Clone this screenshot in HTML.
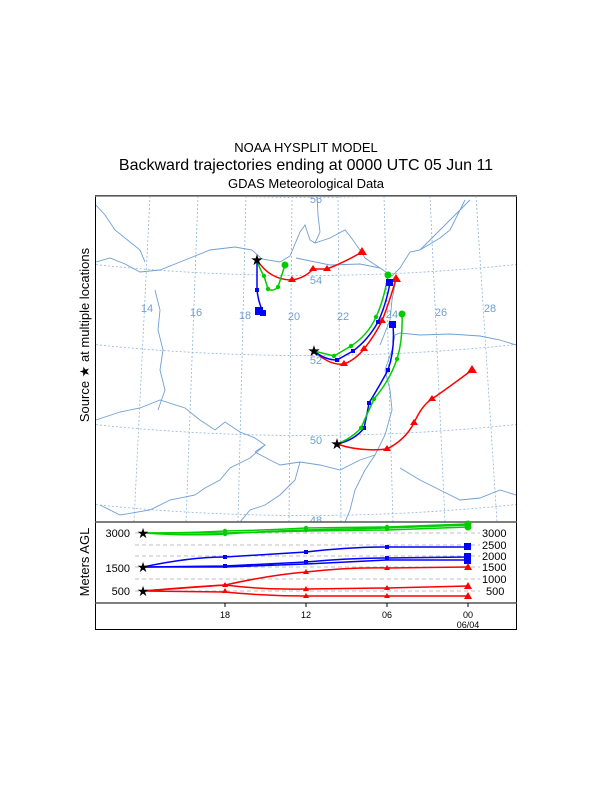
<!DOCTYPE html>
<html><head><style>body{margin:0;background:#fff}svg{display:block}</style></head><body>
<svg width="612" height="792" xmlns="http://www.w3.org/2000/svg" font-family="Liberation Sans, sans-serif">
<text x="306" y="152" font-size="13" text-anchor="middle">NOAA HYSPLIT MODEL</text>
<text x="306" y="170" font-size="16" text-anchor="middle">Backward trajectories ending at 0000 UTC 05 Jun 11</text>
<text x="306" y="188" font-size="13" text-anchor="middle">GDAS Meteorological Data</text>
<text transform="translate(89,335) rotate(-90)" font-size="13" text-anchor="middle">Source ★ at multiple locations</text>
<text transform="translate(89,562) rotate(-90)" font-size="13" text-anchor="middle">Meters AGL</text>
<defs><clipPath id="m"><rect x="96" y="197" width="420" height="325"/></clipPath></defs>
<g clip-path="url(#m)">
<g stroke="#8fb4dc" stroke-width="0.8" stroke-dasharray="2,2" fill="none">
<line x1="85" y1="196" x2="62" y2="522"/><line x1="150" y1="196" x2="134" y2="522"/>
<line x1="198" y1="196" x2="186" y2="522"/><line x1="246" y1="196" x2="238" y2="522"/>
<line x1="292" y1="196" x2="289" y2="522"/><line x1="338" y1="196" x2="341" y2="522"/>
<line x1="384" y1="196" x2="393" y2="522"/><line x1="430" y1="196" x2="445" y2="522"/>
<line x1="476" y1="196" x2="497" y2="522"/>
<path d="M80 185 Q306 210 530 185"/><path d="M80 263 Q306 288 530 263"/>
<path d="M80 343 Q306 368 530 343"/><path d="M80 423 Q306 448 530 423"/><path d="M80 503 Q306 528 530 503"/>
</g>
<g stroke="#6f9fd4" stroke-width="0.9" fill="none">
<path d="M96 262 L110 258 L125 264 L140 272 L160 270 L180 262 L210 250 L235 247 L252 250 L262 259 L280 262 L290 256 L295 244 L300 232 L305 225 L310 240 L315 243 L330 238 L345 230 L350 236 L360 250 L365 258 L380 268 L392 276 L400 268 L410 252 L420 250 L430 244 L440 238 L450 230 L455 220 L460 210 L465 200"/>
<path d="M296 258 L330 265 L360 264 L380 268"/>
<path d="M317 196 L318 215 L320 232 L315 243"/>
<path d="M96 205 L105 215 L115 230 L130 242 L140 250 L145 262"/>
<path d="M155 290 L160 310 L158 330 L163 350 L160 370 L165 390 L158 410"/>
<path d="M96 420 L120 412 L140 408 L160 400 L185 408 L200 420 L215 430 L225 422 L240 432 L255 438 L265 445 L255 452"/>
<path d="M255 452 L270 460 L280 465 L300 462 L320 465 L340 470 L360 460 L375 455"/>
<path d="M265 445 L250 458 L230 468 L220 480 L205 488 L195 495 L170 500 L150 510 L120 515 L100 505"/>
<path d="M300 462 L295 480 L280 495 L265 505 L250 510 L240 522"/>
<path d="M375 455 L385 435 L392 410 L390 390 L385 370 L392 350 L395 335 L400 333 L420 335 L450 334 L480 336 L500 340 L516 345"/>
<path d="M375 455 L365 470 L355 490 L350 510 L345 522"/>
<path d="M400 468 L420 480 L440 490 L460 500 L480 498 L500 490 L516 495"/>
<path d="M396 279 L392 300 L390 320 L384 335 L380 345"/>
<path d="M420 250 L440 230 L455 215 L470 200"/>
</g>
<g fill="#6f9fd4" font-size="11" text-anchor="middle">
<text x="147" y="312">14</text><text x="196" y="316">16</text><text x="245" y="319">18</text>
<text x="294" y="320">20</text><text x="343" y="320">22</text><text x="392" y="318">24</text>
<text x="441" y="316">26</text><text x="490" y="312">28</text>
<text x="316" y="203">56</text><text x="316" y="284">54</text><text x="316" y="364">52</text>
<text x="316" y="444">50</text><text x="316" y="524">48</text>
</g>
<g fill="none" stroke-width="1.5">
<path stroke="#f00" d="M257 260 Q270 280 292 280 Q305 278 313 269 L327 269 Q345 262 362 252"/>
<path stroke="#0c0" d="M257 260 Q260 270 264 276 L268 289 Q273 292 278 287 L285 265"/>
<path stroke="#00f" d="M257 260 L257 290 Q258 300 262 310"/>
<path stroke="#f00" d="M314 351 Q330 366 344 364 Q355 360 364 349 Q375 335 382 321 Q390 300 396 279"/>
<path stroke="#00f" d="M314 351 Q325 360 337 360 L353 351 Q368 340 378 322 Q386 305 390 283"/>
<path stroke="#0c0" d="M314 351 L334 356 L351 346 Q368 335 376 317 Q384 300 388 275"/>
<path stroke="#f00" d="M337 444 Q360 452 387 449 Q405 440 414 423 Q422 405 432 399 Q452 385 472 370"/>
<path stroke="#00f" d="M337 444 Q355 440 364 428 Q367 415 369 403 Q380 385 388 370 Q395 350 393 325"/>
<path stroke="#0c0" d="M337 444 Q352 438 361 428 Q368 412 374 399 Q390 380 397 359 Q403 340 402 314"/>
</g>
<g fill="#f00">
<path d="M292 276 l4 6 h-8z"/><path d="M313 265 l4 6 h-8z"/><path d="M327 265 l4 6 h-8z"/><path d="M362 247 l5 8 h-10z"/>
<path d="M344 360 l4 6 h-8z"/><path d="M364 345 l4 6 h-8z"/><path d="M382 317 l4 6 h-8z"/><path d="M396 274 l5 8 h-10z"/>
<path d="M387 445 l4 6 h-8z"/><path d="M414 419 l4 6 h-8z"/><path d="M432 395 l4 6 h-8z"/><path d="M472 365 l5 8 h-10z"/>
</g>
<g fill="#00f">
<rect x="255" y="288" width="4" height="4"/><rect x="255" y="307" width="8" height="8"/><rect x="260" y="310" width="6" height="6"/>
<rect x="335" y="358" width="4" height="4"/><rect x="351" y="349" width="4" height="4"/><rect x="376" y="320" width="4" height="4"/><rect x="386" y="279" width="7" height="7"/>
<rect x="362" y="426" width="4" height="4"/><rect x="367" y="401" width="4" height="4"/><rect x="386" y="368" width="4" height="4"/><rect x="389" y="321" width="7" height="7"/>
</g>
<g fill="#0c0">
<circle cx="264" cy="276" r="2.2"/><circle cx="268" cy="289" r="2.2"/><circle cx="278" cy="287" r="2.2"/><circle cx="285" cy="265" r="3.5"/>
<circle cx="334" cy="356" r="2.2"/><circle cx="351" cy="346" r="2.2"/><circle cx="376" cy="317" r="2.2"/><circle cx="388" cy="275" r="3.5"/>
<circle cx="361" cy="428" r="2.2"/><circle cx="374" cy="399" r="2.2"/><circle cx="397" cy="359" r="2.2"/><circle cx="402" cy="314" r="3.5"/>
</g>
<g font-size="15" text-anchor="middle"><text x="257" y="265">★</text><text x="314" y="356">★</text><text x="337" y="449">★</text></g>
</g>
<rect x="95.5" y="195.5" width="421" height="434" fill="none" stroke="#000" stroke-width="1"/>
<line x1="95" y1="196" x2="517" y2="196" stroke="#777" stroke-width="1.5"/>
<line x1="95" y1="522" x2="517" y2="522" stroke="#555" stroke-width="1.5"/>
<line x1="95" y1="603" x2="517" y2="603" stroke="#555" stroke-width="1.5"/>
<g stroke="#aaa" stroke-dasharray="4,3" stroke-width="0.8">
<line x1="135" y1="545" x2="480" y2="545"/><line x1="135" y1="556" x2="480" y2="556"/><line x1="135" y1="579" x2="480" y2="579"/><line x1="135" y1="533" x2="480" y2="533"/><line x1="135" y1="567" x2="480" y2="567"/><line x1="135" y1="591" x2="480" y2="591"/>
</g>
<g font-size="11" text-anchor="end"><text x="130" y="537">3000</text><text x="130" y="572">1500</text><text x="130" y="595">500</text></g>
<g font-size="11"><text x="482" y="537">3000</text><text x="482" y="549">2500</text><text x="482" y="560">2000</text><text x="482" y="571">1500</text><text x="482" y="583">1000</text><text x="486" y="595">500</text></g>
<g fill="none" stroke-width="1.5">
<path stroke="#0c0" d="M143 533 Q190 533 225 531 Q270 530 306 528 L387 527 L468 524"/>
<path stroke="#0c0" d="M143 533 Q190 536 225 534 Q270 531 306 530 L387 528 L468 525"/>
<path stroke="#0c0" d="M143 533 L225 533 L306 531 L387 530 L468 527"/>
<path stroke="#00f" d="M143 567 Q190 557 225 557 L306 552 Q350 547 387 547 L468 547"/>
<path stroke="#00f" d="M143 567 L225 566 L306 562 Q350 558 387 558 L468 557"/>
<path stroke="#00f" d="M143 567 L225 567 L306 564 L387 560 L468 560"/>
<path stroke="#f00" d="M143 591 Q190 587 225 585 Q270 575 306 572 Q350 567 387 568 L468 567"/>
<path stroke="#f00" d="M143 591 L225 585 Q265 590 306 589 L387 588 L468 586"/>
<path stroke="#f00" d="M143 591 L225 592 Q265 596 306 596 L387 596 L468 596"/>
</g>
<g fill="#0c0"><circle cx="225" cy="531" r="2.2"/><circle cx="225" cy="534" r="2.2"/><circle cx="306" cy="528" r="2.2"/><circle cx="306" cy="530" r="2.2"/><circle cx="387" cy="527" r="2.2"/><circle cx="387" cy="529" r="2.2"/><circle cx="468" cy="524" r="3.5"/><circle cx="468" cy="527" r="3.5"/></g>
<g fill="#00f"><rect x="223" y="555" width="4" height="4"/><rect x="223" y="564" width="4" height="4"/><rect x="304" y="550" width="4" height="4"/><rect x="304" y="560" width="4" height="4"/><rect x="385" y="545" width="4" height="4"/><rect x="385" y="556" width="4" height="4"/><rect x="464" y="543" width="7" height="7"/><rect x="464" y="553" width="7" height="7"/><rect x="464" y="557" width="7" height="7"/></g>
<g fill="#f00"><path d="M225 582 l3 5 h-6z"/><path d="M225 588 l3 5 h-6z"/><path d="M306 569 l3 5 h-6z"/><path d="M306 586 l3 5 h-6z"/><path d="M306 593 l3 5 h-6z"/><path d="M387 565 l3 5 h-6z"/><path d="M387 585 l3 5 h-6z"/><path d="M387 593 l3 5 h-6z"/><path d="M468 563 l4 7 h-8z"/><path d="M468 582 l4 7 h-8z"/><path d="M468 592 l4 7 h-8z"/></g>
<g font-size="14" text-anchor="middle"><text x="143" y="538">★</text><text x="143" y="572">★</text><text x="143" y="596">★</text></g>
<g stroke="#000"><line x1="225" y1="603" x2="225" y2="607"/><line x1="306" y1="603" x2="306" y2="607"/><line x1="387" y1="603" x2="387" y2="607"/><line x1="468" y1="603" x2="468" y2="607"/></g>
<g font-size="9" text-anchor="middle"><text x="225" y="618">18</text><text x="306" y="618">12</text><text x="387" y="618">06</text><text x="468" y="618">00</text><text x="468" y="628">06/04</text></g>
</svg>
</body></html>
